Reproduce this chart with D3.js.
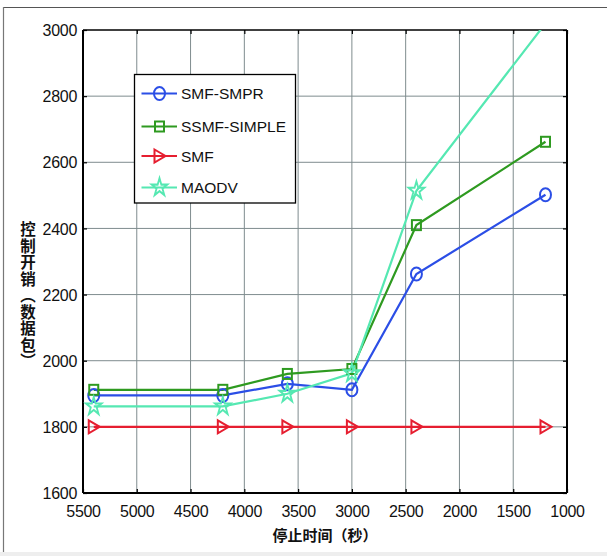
<!DOCTYPE html>
<html><head><meta charset="utf-8">
<script src="https://cdn.jsdelivr.net/npm/d3@7"></script>
<style>html,body{margin:0;padding:0;background:#fff;}svg{display:block;}</style>
</head><body>
<script>
const stopTimes = [5400, 4200, 3600, 3000, 2400, 1200];
const smfSmpr   = [1895, 1895, 1930, 1912, 2262, 2502];
const ssmfSimple= [1912, 1912, 1960, 1975, 2410, 2662];
const smf       = [1800, 1800, 1800, 1800, 1800, 1800];
const maodv     = [1862, 1862, 1900, 1962, 2514, 3020];
const seriesNames = ["SMF-SMPR", "SSMF-SIMPLE", "SMF", "MAODV"];
const xTicks = [5500, 5000, 4500, 4000, 3500, 3000, 2500, 2000, 1500, 1000];
const yTicks = [1600, 1800, 2000, 2200, 2400, 2600, 2800, 3000];
const xTitle = "停止时间（秒）";
const yTitle = "控制开销（数据包）";

const W = 607, H = 556;
const L = 83, R = 567, T = 30, B = 493;
const svg = d3.select("body").append("svg").attr("width", W).attr("height", H);

// outer frame
svg.append("rect").attr("x",0).attr("y",0).attr("width",W).attr("height",H).attr("fill","#fff");
svg.append("rect").attr("x",0).attr("y",552).attr("width",W).attr("height",4).attr("fill","#eeeeee");
svg.append("line").attr("x1",3).attr("x2",W).attr("y1",7.5).attr("y2",7.5).attr("stroke","#555").attr("stroke-width",1.2);
svg.append("line").attr("x1",3.5).attr("x2",3.5).attr("y1",7).attr("y2",552).attr("stroke","#777").attr("stroke-width",1.2);

const x = d3.scaleLinear().domain([5500, 1000]).range([L, R]);
const y = d3.scaleLinear().domain([1600, 3000]).range([B, T]);

// grid
const grid = svg.append("g");
xTicks.slice(1, -1).forEach(t => grid.append("line").attr("x1", x(t)).attr("x2", x(t)).attr("y1", T).attr("y2", B)
  .attr("stroke", "#7f8c8e").attr("stroke-width", 1));
yTicks.slice(1, -1).forEach(t => grid.append("line").attr("x1", L).attr("x2", R).attr("y1", y(t)).attr("y2", y(t))
  .attr("stroke", "#7f8c8e").attr("stroke-width", 1));

// axes
const fontNum = "'Liberation Sans', Arial, sans-serif";
const xAxis = svg.append("g").attr("transform", `translate(0,${B})`)
  .call(d3.axisBottom(x).tickValues(xTicks).tickSize(-4).tickPadding(13).tickFormat(d3.format("d")));
const yAxis = svg.append("g").attr("transform", `translate(${L},0)`)
  .call(d3.axisLeft(y).tickValues(yTicks).tickSize(-4).tickPadding(6).tickFormat(d3.format("d")));
const xTop = svg.append("g").attr("transform", `translate(0,${T})`)
  .call(d3.axisTop(x).tickValues(xTicks).tickSize(-4).tickFormat(""));
const yRight = svg.append("g").attr("transform", `translate(${R},0)`)
  .call(d3.axisRight(y).tickValues(yTicks).tickSize(-4).tickFormat(""));
[xAxis, yAxis, xTop, yRight].forEach(g => {
  g.select(".domain").remove();
  g.selectAll(".tick line").attr("stroke", "#000").attr("stroke-width", 1.2);
  g.selectAll("text").attr("font-family", fontNum).attr("font-size", "16px").attr("fill", "#111")
    .attr("letter-spacing", "-0.3px");
});
yAxis.selectAll("text").attr("dy", "0.35em").attr("x", -6);
xAxis.selectAll("text").attr("dy", "0.71em");

// box
svg.append("line").attr("x1", L).attr("x2", R).attr("y1", T).attr("y2", T).attr("stroke", "#000").attr("stroke-width", 1.5);
svg.append("line").attr("x1", L).attr("x2", R).attr("y1", B).attr("y2", B).attr("stroke", "#000").attr("stroke-width", 2);
svg.append("line").attr("x1", L).attr("x2", L).attr("y1", T).attr("y2", B).attr("stroke", "#000").attr("stroke-width", 2);
svg.append("line").attr("x1", R).attr("x2", R).attr("y1", T).attr("y2", B).attr("stroke", "#000").attr("stroke-width", 2);

// clip
svg.append("clipPath").attr("id", "clip").append("rect").attr("x", L).attr("y", T).attr("width", R - L).attr("height", B - T);

const colors = ["#2b4ee6", "#2e9a20", "#e61e30", "#55e8b2"];
const seriesVals = [smfSmpr, ssmfSimple, smf, maodv];
const markers = ["circle", "square", "triangle", "star"];

function drawMarker(g, type, cx, cy, color) {
  if (type === "circle") {
    g.append("ellipse").attr("cx", cx).attr("cy", cy).attr("rx", 5.5).attr("ry", 6.5)
      .attr("fill", "none").attr("stroke", color).attr("stroke-width", 2);
  } else if (type === "square") {
    g.append("rect").attr("x", cx - 4.5).attr("y", cy - 5).attr("width", 9).attr("height", 10)
      .attr("fill", "none").attr("stroke", color).attr("stroke-width", 2);
  } else if (type === "triangle") {
    g.append("path").attr("d", `M${cx - 5},${cy - 6.5}L${cx + 6},${cy}L${cx - 5},${cy + 6.5}Z`)
      .attr("fill", "none").attr("stroke", color).attr("stroke-width", 2);
  } else {
    g.append("path").attr("d", d3.symbol().type(d3.symbolStar).size(75)())
      .attr("transform", `translate(${cx},${cy}) scale(1,1.15)`)
      .attr("fill", "none").attr("stroke", color).attr("stroke-width", 1.8);
  }
}

const plot = svg.append("g").attr("clip-path", "url(#clip)");
const line = d3.line().x((d, i) => x(stopTimes[i])).y(d => y(d));
seriesVals.forEach((vals, k) => {
  plot.append("path").attr("d", line(vals)).attr("fill", "none").attr("stroke", colors[k]).attr("stroke-width", 2.2);
});
seriesVals.forEach((vals, k) => {
  vals.forEach((v, i) => { if (v <= 3000) drawMarker(plot, markers[k], x(stopTimes[i]), y(v), colors[k]); });
});

// legend
const lg = svg.append("g");
lg.append("rect").attr("x", 134.5).attr("y", 74.5).attr("width", 161).attr("height", 128.5)
  .attr("fill", "#fff").attr("stroke", "#000").attr("stroke-width", 1.3);
const lgY = [93.5, 126.5, 156, 187.5];
seriesNames.forEach((name, k) => {
  lg.append("line").attr("x1", 141.5).attr("x2", 177).attr("y1", lgY[k]).attr("y2", lgY[k])
    .attr("stroke", colors[k]).attr("stroke-width", 2.2);
  drawMarker(lg, markers[k], 159.5, lgY[k], colors[k]);
  lg.append("text").attr("x", 181).attr("y", lgY[k]).attr("dy", "0.36em")
    .attr("font-family", fontNum).attr("font-size", "15.5px").attr("fill", "#111").text(name);
});

// titles
const cjk = "'Noto Sans CJK SC', sans-serif";
svg.append("text").attr("x", (L + R) / 2).attr("y", 541).attr("text-anchor", "middle")
  .attr("font-family", cjk).attr("font-size", "15px").attr("font-weight", "bold").attr("fill", "#111").text(xTitle);
svg.append("text").attr("x", 28).attr("y", 296).attr("text-anchor", "middle")
  .style("writing-mode", "vertical-rl")
  .attr("font-family", cjk).attr("font-size", "15.5px").attr("font-weight", "bold").attr("letter-spacing", "1px")
  .attr("fill", "#111").text(yTitle);
</script>
</body></html>
